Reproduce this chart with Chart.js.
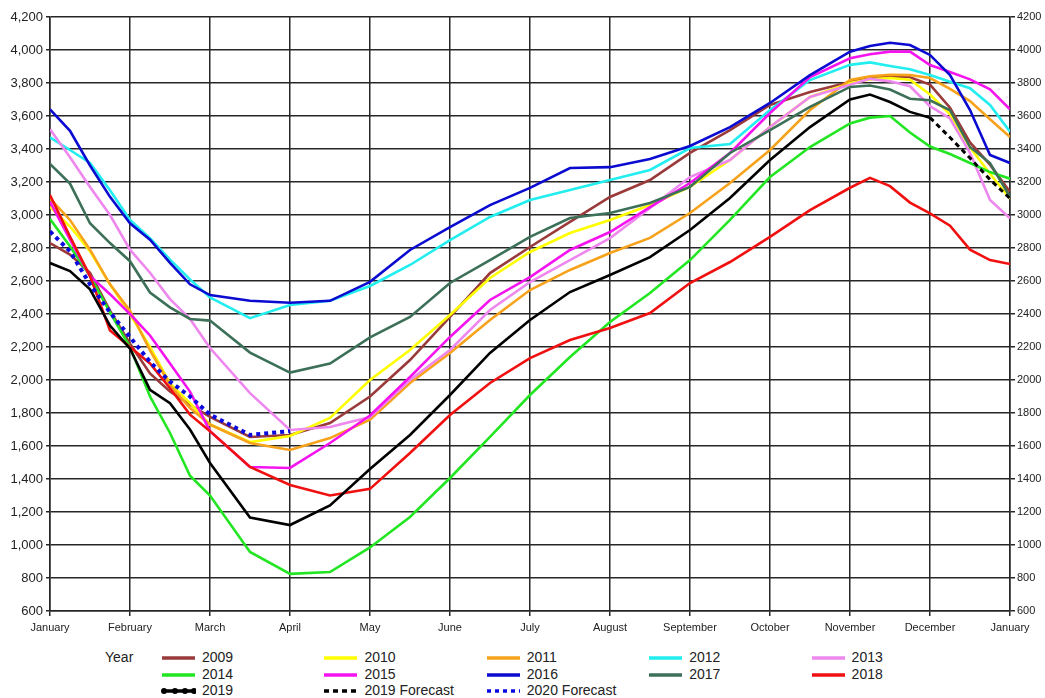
<!DOCTYPE html>
<html>
<head>
    <title>Working Gas in Storage</title>
    <script src="https://cdn.jsdelivr.net/npm/chart.js"></script>
    <style>
        body { margin: 0; background: #fff; }
        #wrap { position: relative; width: 1045px; height: 698px; }
        #storageChart { position: absolute; left: 0; top: 0; }
        .leg { position: absolute; font: 14px "Liberation Sans", Arial, sans-serif; color: #222; white-space: nowrap; line-height: 16px; }
        .leg svg { vertical-align: middle; margin-right: 6px; }
    </style>
</head>
<body>
<div id="wrap">
    <canvas id="storageChart" width="1045" height="640"></canvas>
    <div id="legend"></div>
</div>

<script>
    // x axis labels, one per month boundary
    const months = ['January', 'February', 'March', 'April', 'May', 'June', 'July',
        'August', 'September', 'October', 'November', 'December', 'January'];

    // sample positions in months: quarter months at both ends, half months in between
    const samplePos = [0, 0.25, 0.5, 0.75, 1, 1.25, 1.5, 1.75, 2,
        2.5, 3, 3.5, 4, 4.5, 5, 5.5, 6, 6.5, 7, 7.5, 8, 8.5, 9, 9.5,
        10, 10.25, 10.5, 10.75, 11, 11.25, 11.5, 11.75, 12];

    const s2009 = [2830, 2760, 2650, 2420, 2220, 2040, 1930, 1850, 1776,
        1655, 1667, 1739, 1900, 2121, 2382, 2648, 2806, 2958, 3109, 3212, 3376, 3515, 3667, 3745,
        3806, 3835, 3840, 3835, 3790, 3650, 3440, 3305, 3140];
    const s2010 = [3050, 2930, 2780, 2580, 2400, 2200, 1980, 1860, 1730,
        1624, 1661, 1770, 2000, 2182, 2394, 2618, 2776, 2891, 2970, 3061, 3170, 3333, 3533, 3715,
        3800, 3822, 3830, 3820, 3730, 3610, 3410, 3250, 3100];
    const s2011 = [3100, 2970, 2790, 2580, 2420, 2180, 1970, 1830, 1730,
        1618, 1576, 1648, 1760, 1982, 2164, 2364, 2545, 2667, 2770, 2861, 3012, 3194, 3394, 3636,
        3818, 3840, 3850, 3848, 3830, 3765, 3690, 3580, 3473];
    const s2012 = [3470, 3394, 3315, 3150, 2970, 2860, 2730, 2610, 2500,
        2375, 2455, 2480, 2570, 2697, 2848, 2988, 3091, 3152, 3212, 3273, 3406, 3430, 3636, 3818,
        3910, 3925, 3903, 3883, 3849, 3808, 3768, 3667, 3505];
    const s2013 = [3520, 3350, 3170, 3000, 2790, 2650, 2490, 2370, 2194,
        1920, 1697, 1715, 1776, 2000, 2182, 2424, 2594, 2727, 2860, 3042, 3230, 3333, 3533, 3715,
        3790, 3825, 3810, 3780, 3660, 3585, 3376, 3091, 2980];
    const s2014 = [2976, 2810, 2630, 2410, 2200, 1900, 1679, 1420, 1300,
        958, 825, 836, 985, 1170, 1406, 1655, 1909, 2139, 2352, 2527, 2727, 2970, 3230, 3412,
        3555, 3590, 3600, 3500, 3415, 3370, 3315, 3260, 3220];
    const s2015 = [3080, 2850, 2630, 2520, 2400, 2270, 2100, 1930, 1690,
        1473, 1467, 1618, 1785, 2018, 2261, 2485, 2624, 2788, 2897, 3048, 3194, 3376, 3618, 3836,
        3950, 3974, 3990, 3990, 3909, 3867, 3822, 3762, 3641];
    const s2016 = [3640, 3510, 3300, 3110, 2950, 2850, 2710, 2580, 2515,
        2480, 2468, 2480, 2595, 2788, 2927, 3060, 3164, 3285, 3290, 3339, 3418, 3533, 3679, 3848,
        3990, 4024, 4044, 4030, 3970, 3848, 3636, 3364, 3315];
    const s2017 = [3309, 3190, 2950, 2830, 2720, 2530, 2440, 2370, 2360,
        2166, 2045, 2100, 2258, 2382, 2588, 2727, 2867, 2982, 3012, 3073, 3170, 3376, 3515, 3655,
        3776, 3785, 3760, 3705, 3695, 3635, 3412, 3315, 3110];
    const s2018 = [3121, 2870, 2630, 2300, 2200, 2100, 1950, 1790, 1690,
        1473, 1364, 1300, 1340, 1558, 1788, 1982, 2133, 2242, 2315, 2406, 2588, 2715, 2867, 3030,
        3165, 3225, 3175, 3075, 3010, 2935, 2790, 2727, 2703];
    const s2019 = [2709, 2660, 2550, 2330, 2190, 1940, 1860, 1700, 1497,
        1167, 1121, 1240, 1460, 1667, 1909, 2164, 2364, 2533, 2636, 2745, 2909, 3103, 3333, 3533,
        3700, 3730, 3685, 3625, 3590, null, null, null, null];
    const f2019 = [null, null, null, null, null, null, null, null, null,
        null, null, null, null, null, null, null, null, null, null, null, null, null, null, null,
        null, null, null, null, 3590, 3470, 3345, 3215, 3100];
    const f2020 = [2900, 2780, 2580, 2410, 2260, 2110, 1990, 1900, 1790,
        1667, 1690, null, null, null, null, null, null, null, null, null, null, null, null, null,
        null, null, null, null, null, null, null, null, null];

    const seriesNames = ['2009', '2010', '2011', '2012', '2013', '2014', '2015', '2016', '2017', '2018',
        '2019', '2019 Forecast', '2020 Forecast'];
    const seriesValues = [s2009, s2010, s2011, s2012, s2013, s2014, s2015, s2016, s2017, s2018, s2019, f2019, f2020];
    const seriesColors = ['#9b3a3a', '#ffff00', '#f7a21b', '#22eef0', '#ee88ee', '#22e622', '#f514f0',
        '#0a0ad0', '#3d7058', '#f01010', '#000000', '#000000', '#0a0ae0'];

    const gridColor = '#262626';
    const textColor = '#222';

    const datasets = seriesNames.map((name, i) => {
        const ds = {
            label: name,
            data: samplePos.map((m, k) => ({x: m, y: seriesValues[i][k]})),
            borderColor: seriesColors[i],
            backgroundColor: seriesColors[i],
            borderWidth: 2.6,
            pointRadius: 0,
            spanGaps: false,
            order: -i
        };
        if (name === '2019 Forecast') {
            ds.borderDash = [5, 4];
            ds.borderWidth = 3;
        }
        if (name === '2020 Forecast') {
            ds.borderDash = [4, 4];
            ds.borderWidth = 4;
        }
        return ds;
    });

    const ctx = document.getElementById('storageChart').getContext('2d');
    const chart = new Chart(ctx, {
        type: 'line',
        data: {datasets: datasets},
        options: {
            responsive: false,
            animation: false,
            layout: {padding: {top: 17, left: 0, right: 0, bottom: 0}},
            elements: {line: {tension: 0}},
            plugins: {
                legend: {display: false},
                tooltip: {enabled: false}
            },
            scales: {
                x: {
                    type: 'linear',
                    min: 0,
                    max: 12,
                    ticks: {
                        stepSize: 1,
                        autoSkip: false,
                        maxRotation: 0,
                        padding: 5,
                        color: textColor,
                        font: {family: '"Liberation Sans", Arial', size: 11},
                        callback: v => months[v]
                    },
                    grid: {color: gridColor, lineWidth: 1.5, tickLength: 5},
                    border: {color: gridColor, width: 1.5},
                    afterFit: s => { s.height = 29; }
                },
                y: {
                    position: 'left',
                    min: 600,
                    max: 4200,
                    ticks: {
                        stepSize: 200,
                        padding: 3,
                        color: textColor,
                        font: {family: '"Liberation Sans", Arial', size: 13},
                        callback: v => v.toLocaleString('en-US')
                    },
                    grid: {color: gridColor, lineWidth: 1.5, tickLength: 4},
                    border: {color: gridColor, width: 1.5},
                    afterFit: s => { s.width = 50; }
                },
                y2: {
                    position: 'right',
                    min: 600,
                    max: 4200,
                    ticks: {
                        stepSize: 200,
                        padding: 2,
                        color: textColor,
                        font: {family: '"Liberation Sans", Arial', size: 11},
                        callback: v => String(v)
                    },
                    grid: {drawOnChartArea: false, color: gridColor, lineWidth: 1.5, tickLength: 5},
                    border: {color: gridColor, width: 1.5},
                    afterFit: s => { s.width = 35; }
                }
            }
        }
    });

    // legend laid out like the spreadsheet one: 5 columns, 3 rows
    const legend = document.getElementById('legend');
    const yearLabel = document.createElement('div');
    yearLabel.className = 'leg';
    yearLabel.style.left = '105px';
    yearLabel.style.top = '649px';
    yearLabel.textContent = 'Year';
    legend.appendChild(yearLabel);

    chart.data.datasets.forEach((ds, i) => {
        const col = i % 5, row = Math.floor(i / 5);
        const item = document.createElement('div');
        item.className = 'leg';
        item.style.left = (161 + col * 162.4) + 'px';
        item.style.top = (649 + row * 16.5) + 'px';
        let sample = '<line x1="1" y1="5" x2="34" y2="5" stroke="' + ds.borderColor + '" stroke-width="3.5"'
            + (ds.borderDash ? ' stroke-dasharray="' + ds.borderDash.join(' ') + '"' : '') + '/>';
        if (ds.label === '2019') {
            sample += [3, 14, 24, 33].map(cx => '<circle cx="' + cx + '" cy="5" r="3" fill="#000"/>').join('');
        }
        item.innerHTML = '<svg width="35" height="10">' + sample + '</svg>' + ds.label;
        legend.appendChild(item);
    });
</script>
</body>
</html>
